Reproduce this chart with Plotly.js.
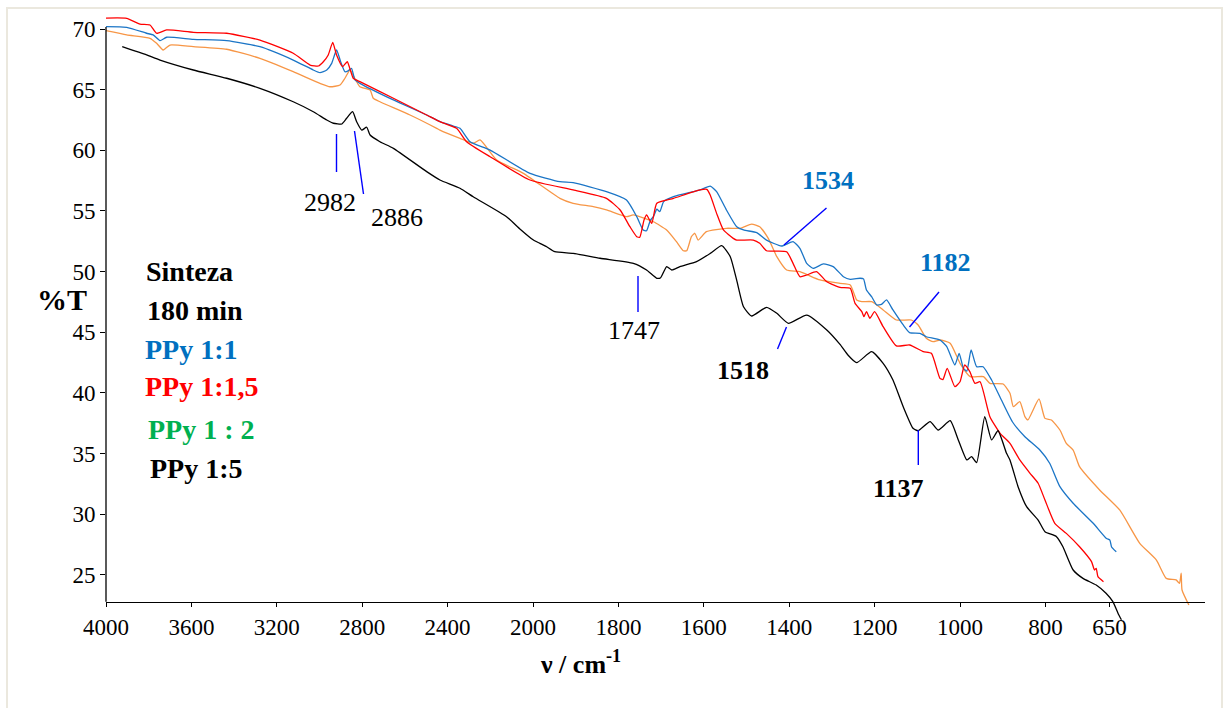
<!DOCTYPE html>
<html><head><meta charset="utf-8">
<script src="https://cdn.plot.ly/plotly-3.0.1.min.js"></script>
<style>html,body{margin:0;padding:0;background:#fff;} #chart{width:1230px;height:708px;}</style>
</head><body><div id="chart"></div>
<script>
// ---- data (wavenumber cm-1, %T) ----
const wnBlack=[3924,3810,3747,3591,3435,3279,3123,3029,2966,2935,2896,2873,2845,2826,2802,2779,2763,2717,2654,2498,2436,2342,2280,2124,2060,1999,1984,1968,1949,1906,1843,1765,1734,1710,1701,1687,1675,1656,1617,1585,1558,1538,1523,1507,1488,1453,1429,1402,1359,1312,1281,1262,1242,1207,1180,1157,1133,1110,1098,1070,1051,1023,1004,984,973,961,942,926,911,891,883,864,844,817,801,774,759,735,712,681,658,642,630,622];
const tBlack=[68.54,67.86,67.44,66.62,65.94,65.11,64.0,63.18,62.5,62.23,62.17,62.64,63.18,62.36,61.67,61.9,61.26,60.71,60.16,58.24,57.55,56.87,56.17,54.53,53.5,52.6,52.33,52.05,51.64,51.5,51.1,50.68,50.13,49.45,49.5,50.41,50.13,50.41,50.82,51.5,52.14,51.23,49.3,47.1,46.34,47.05,46.56,45.74,46.42,45.19,44.0,43.1,42.49,43.4,42.44,41.06,38.86,37.08,36.88,37.63,36.94,37.71,36.12,34.47,34.74,34.25,38.04,36.12,36.88,35.02,34.47,32.27,30.62,29.52,28.56,28.15,27.32,25.4,24.71,24.16,23.48,22.79,21.84,21.3];

const wnRed=[4000,3903,3841,3794,3763,3716,3591,3435,3279,3123,3044,3005,2982,2959,2938,2920,2892,2870,2842,2811,2654,2498,2436,2358,2311,2201,2014,1906,1828,1796,1773,1757,1750,1740,1734,1722,1710,1671,1609,1593,1585,1570,1554,1531,1523,1484,1469,1453,1406,1391,1375,1359,1336,1312,1281,1257,1246,1230,1225,1219,1211,1200,1180,1149,1118,1086,1067,1047,1040,1030,1012,1000,989,977,965,953,930,906,883,860,836,817,801,778,751,720,692,685,681,677,664];
const tRed=[70.9,70.88,70.41,70.33,69.65,69.92,69.73,69.65,69.09,68.0,67.03,66.95,67.3,67.86,68.9,67.86,66.9,67.3,65.94,65.66,64.29,62.91,62.36,61.81,60.71,59.47,57.55,56.73,56.04,55.08,53.7,52.88,52.83,54.25,54.67,53.98,55.63,56.04,56.73,56.78,56.31,54.8,53.43,52.74,52.6,52.6,52.33,51.72,51.64,50.68,49.58,49.72,50.0,49.17,48.7,48.62,47.4,46.7,46.28,46.7,46.15,46.7,45.46,43.87,43.95,43.4,43.26,41.2,41.1,42.03,40.51,40.92,42.3,41.75,40.79,40.92,38.04,36.67,35.84,34.47,33.37,32.55,31.17,29.25,28.42,27.32,26.09,25.4,25.54,24.85,24.44];

const wnBlue=[4000,3903,3810,3779,3747,3716,3591,3435,3279,3123,3029,2998,2966,2943,2920,2901,2881,2866,2850,2834,2811,2654,2498,2436,2373,2342,2295,2201,2014,1937,1906,1828,1781,1757,1742,1734,1725,1718,1710,1703,1694,1671,1624,1609,1585,1570,1547,1523,1507,1476,1453,1418,1391,1375,1359,1344,1320,1297,1273,1257,1234,1226,1219,1207,1195,1184,1172,1157,1133,1118,1094,1079,1047,1031,1012,1002,992,984,974,961,946,926,903,877,848,813,790,766,735,688,657,649,645,634];
const tBlue=[70.19,70.14,69.65,69.51,69.04,69.32,69.15,69.04,68.54,67.44,66.62,66.4,66.62,67.17,68.27,67.3,66.48,66.55,66.76,65.8,65.52,64.15,62.91,62.36,62.0,61.81,60.71,60.02,58.1,57.41,57.33,56.59,55.9,54.53,53.43,53.37,54.25,54.53,55.14,54.94,55.77,56.18,56.59,56.73,57.05,56.59,55.08,53.7,53.43,53.21,52.6,52.11,52.47,51.92,50.68,50.27,50.63,50.41,49.58,49.36,49.45,49.4,48.48,47.93,47.25,47.3,47.66,46.84,45.6,44.97,44.91,44.63,44.36,43.81,42.3,43.26,42.03,41.8,43.54,42.16,42.16,41.06,39.41,37.6,36.39,35.29,34.2,32.27,30.9,29.25,28.0,27.87,27.3,26.91];

const wnOrange=[4000,3903,3794,3763,3732,3700,3591,3435,3279,3123,2998,2951,2904,2881,2857,2840,2811,2763,2748,2717,2576,2451,2436,2342,2280,2248,2170,2045,1937,1906,1859,1828,1781,1765,1718,1687,1664,1648,1640,1629,1621,1613,1594,1547,1515,1488,1469,1449,1429,1406,1375,1328,1281,1257,1242,1230,1207,1180,1149,1114,1098,1079,1063,1047,1023,1000,976,945,930,899,883,875,860,848,841,815,801,786,766,751,735,720,673,626,579,540,517,494,486,482,480,464];
const tOrange=[69.86,69.51,69.23,68.82,68.27,68.68,68.54,68.33,67.58,66.48,65.52,65.24,65.38,65.94,66.62,66.1,65.24,64.97,64.29,64.0,62.91,61.81,61.67,60.99,60.58,60.85,59.2,58.1,56.04,55.63,55.35,55.08,54.53,54.67,54.11,53.43,52.47,51.72,51.72,52.88,53.16,52.6,53.29,53.57,53.57,53.92,53.7,52.74,51.23,50.13,49.99,49.31,49.03,48.9,47.66,47.52,47.52,46.84,46.01,46.01,45.6,44.5,44.22,44.36,44.09,42.44,41.34,41.34,40.79,40.73,39.97,38.86,39.28,38.04,37.77,39.5,37.9,37.77,36.94,35.84,35.29,33.92,32.0,30.35,27.6,26.22,24.71,24.58,24.3,25.13,23.75,22.51];

const tickWn=[4000,3600,3200,2800,2400,2000,1800,1600,1400,1200,1000,800,650];
const yTickVals=[25,30,35,40,45,50,55,60,65,70];
const seriesNames=['PPy 1:5','PPy 1:1,5','PPy 1:1','PPy 1 : 2'];

// spectrometer-style x scale: 400 cm-1 per unit above 2000, 200 cm-1 per unit below
function toAxis(w){return w>=2000?(4000-w)/400:5+(2000-w)/200;}

const serif='Liberation Serif, Times New Roman, serif';
const W=1230,H=708,L=106,R=25,T=11,B=82;
const pw=W-L-R, ph=H-T-B;
const X=px=>(px-L)/pw, Y=py=>(H-B-py)/ph;

function tr(wn,t,color,name){
  return {type:'scatter',mode:'lines',x:wn.map(toAxis),y:t,name:name,
    line:{color:color,width:1.3,shape:'spline',smoothing:0.5},hoverinfo:'skip'};
}
const data=[
  tr(wnOrange,tOrange,'#f79646',seriesNames[3]),
  tr(wnBlue,tBlue,'#1b75c6',seriesNames[2]),
  tr(wnRed,tRed,'#ff0000',seriesNames[1]),
  tr(wnBlack,tBlack,'#000000',seriesNames[0])
];

function txt(s,px,py,color,size,bold,anchor){
  return {text:bold?'<b>'+s+'</b>':s,xref:'paper',yref:'paper',x:X(px),y:Y(py),
    xanchor:anchor||'center',yanchor:'middle',showarrow:false,
    font:{family:serif,size:size,color:color}};
}
const annotations=[
  txt('2982',330,202,'#000',26,false),
  txt('2886',397,218,'#000',26,false),
  txt('1747',634,331,'#000',26,false),
  txt('1518',743,370,'#000',26,true),
  txt('1534',828,180,'#0070c0',26,true),
  txt('1182',945,262,'#0070c0',26,true),
  txt('1137',898,488,'#000',26,true),
  txt('Sinteza',144,271,'#000',28,true,'left'),
  txt('180 min',145,310,'#000',28,true,'left'),
  txt('PPy 1:1',143,349,'#0070c0',28,true,'left'),
  txt('PPy 1:1,5',143,387,'#ff0000',28,true,'left'),
  txt('PPy 1 : 2',146,429,'#00b050',28,true,'left'),
  txt('PPy 1:5',148,469,'#000',28,true,'left'),
  txt('%T',62,299,'#000',30,true),
  txt('ν / cm<sup>-1</sup>',580,662,'#000',26,true)
];

function seg(x0,y0,x1,y1){
  return {type:'line',xref:'paper',yref:'paper',x0:X(x0),y0:Y(y0),x1:X(x1),y1:Y(y1),
    line:{color:'#0000ff',width:1.4}};
}
const shapes=[
  {type:'rect',xref:'paper',yref:'paper',x0:X(7),x1:X(1222),y0:Y(716),y1:Y(8),
   line:{color:'#ebe8de',width:2},layer:'below'},
  {type:'line',xref:'paper',yref:'paper',x0:0,x1:0,y0:Y(601.7),y1:Y(27),
   line:{color:'#000',width:1.3}},
  seg(336.5,134,336.5,172),
  seg(354.5,131,363.5,194),
  seg(638,276,638,312),
  seg(786.5,327,777.5,349),
  seg(826.5,208,784,245),
  seg(939,292,909.5,327),
  seg(918.3,430,918.3,465)
];

const pxPerT=12.13;
const yMax=70+(29-T)/pxPerT, yMin=yMax-ph/pxPerT;

const layout={
  width:W,height:H,margin:{l:L,r:R,t:T,b:B,pad:0},
  paper_bgcolor:'#fff',plot_bgcolor:'#fff',showlegend:false,
  font:{family:serif,color:'#000'},
  xaxis:{range:[0,pw/85.4],anchor:'free',position:Y(601.7),
    tickmode:'array',tickvals:tickWn.map(toAxis),ticktext:tickWn.map(String),
    ticks:'outside',ticklen:4,tickwidth:1,tickcolor:'#000',
    showline:true,linecolor:'#000',linewidth:1.3,showgrid:false,zeroline:false,
    tickfont:{family:serif,size:23,color:'#000'}},
  yaxis:{range:[yMin,yMax],tickmode:'array',tickvals:yTickVals,
    ticks:'outside',ticklen:5,tickwidth:1,tickcolor:'#000',
    showline:false,showgrid:false,zeroline:false,
    tickfont:{family:serif,size:23,color:'#000'}},
  annotations:annotations,shapes:shapes
};
Plotly.newPlot('chart',data,layout,{displayModeBar:false,staticPlot:true});
</script></body></html>
